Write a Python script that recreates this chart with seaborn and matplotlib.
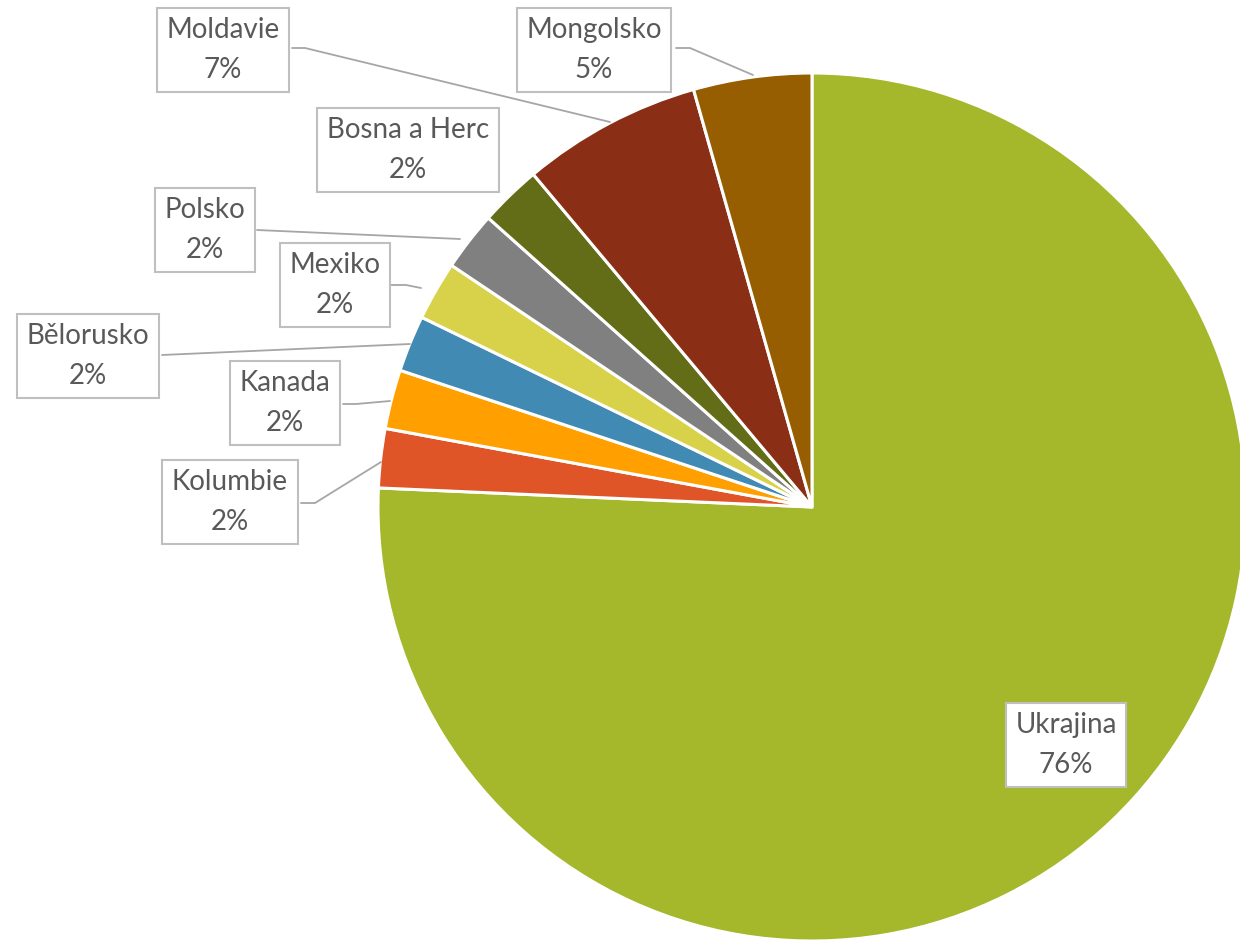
import matplotlib
matplotlib.use("Agg")
import matplotlib.pyplot as plt
import seaborn as sns

sns.set_theme(style="white")
plt.rcParams['font.family'] = ['Lato', 'DejaVu Sans']

countries = ["Ukrajina", "Kolumbie", "Kanada", "Bělorusko", "Mexiko",
             "Polsko", "Bosna a Herc", "Moldavie", "Mongolsko"]
shares = [75.7, 2.2, 2.2, 2.1, 2.2, 2.2, 2.3, 6.7, 4.4]
pct_labels = ["76%", "2%", "2%", "2%", "2%", "2%", "2%", "7%", "5%"]
colors = ["#A5B72A", "#E05527", "#FF9F00", "#418AB3", "#D8D24A",
          "#808080", "#636D17", "#8A2E15", "#965E00"]

W, H = 1240, 941
fig = plt.figure(figsize=(W / 100, H / 100), dpi=100)
ax = fig.add_axes([0, 0, 1, 1])

cx, cy, r = 812, H - 507, 434
ax.pie(shares, colors=colors, startangle=90, counterclock=False,
       center=(cx, cy), radius=r, frame=True,
       wedgeprops=dict(edgecolor="white", linewidth=2.2))
ax.set_xlim(0, W)
ax.set_ylim(0, H)
ax.set_aspect("equal")
ax.axis("off")

# label box centers (pixel coords, y from top) and leader lines
label_pos = {
    "Ukrajina": (1066, 745),
    "Kolumbie": (230, 502),
    "Kanada": (285, 403),
    "Bělorusko": (88, 356),
    "Mexiko": (335, 285),
    "Polsko": (205, 230),
    "Bosna a Herc": (408, 150),
    "Moldavie": (223, 50),
    "Mongolsko": (594, 50),
}
leaders = {
    "Kolumbie": [(301, 503), (315, 503), (381, 462)],
    "Kanada": [(343, 404), (356, 404), (390, 401)],
    "Bělorusko": [(162, 355), (410, 344)],
    "Mexiko": [(391, 285), (406, 285), (421, 288)],
    "Polsko": [(257, 230), (460, 239)],
    "Moldavie": [(292, 48), (305, 48), (610, 122)],
    "Mongolsko": [(676, 48), (690, 48), (753, 75)],
}
for name, pts in leaders.items():
    ax.plot([p[0] for p in pts], [H - p[1] for p in pts],
            color="#A6A6A6", lw=1.3, zorder=3)

for name, pct in zip(countries, pct_labels):
    x, y = label_pos[name]
    ax.text(x, H - y, f"{name}\n{pct}", ha="center", va="center",
            fontsize=20, color="#595959", linespacing=1.62, zorder=5,
            bbox=dict(boxstyle="square,pad=0.35", facecolor="white",
                      edgecolor="#BFBFBF", linewidth=1.5))

fig.savefig("out.png", dpi=100)
